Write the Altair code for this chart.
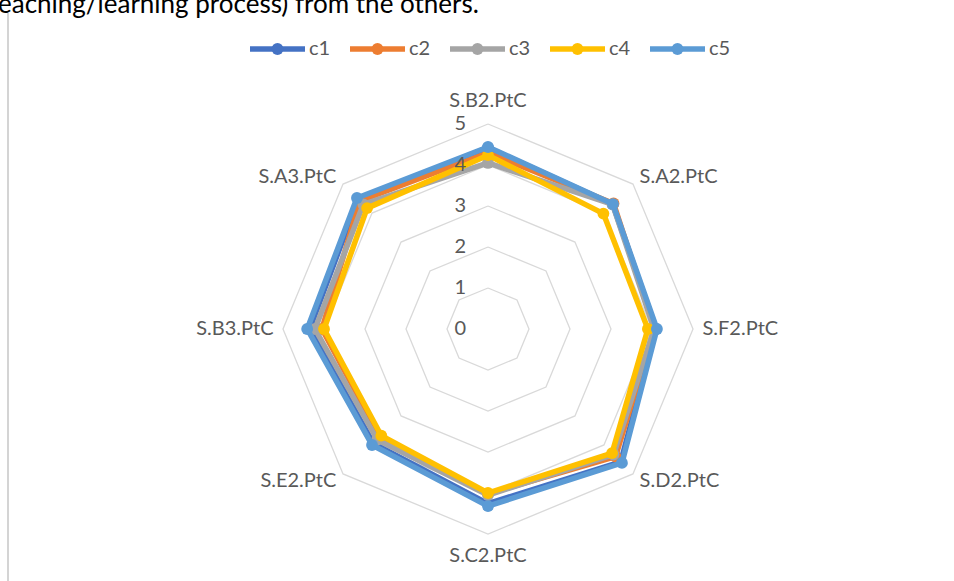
import altair as alt
import pandas as pd

categories = ["S.B2.PtC", "S.A2.PtC", "S.F2.PtC", "S.D2.PtC",
              "S.C2.PtC", "S.E2.PtC", "S.B3.PtC", "S.A3.PtC"]
series_names = ["c1", "c2", "c3", "c4", "c5"]
c1 = [4.42, 4.30, 4.10, 4.58, 4.26, 3.95, 4.35, 4.48]
c2 = [4.30, 4.33, 4.06, 4.40, 4.02, 3.72, 4.05, 4.42]
c3 = [4.05, 4.30, 4.05, 4.33, 4.05, 3.82, 4.22, 4.30]
c4 = [4.24, 3.98, 3.90, 4.28, 4.00, 3.68, 4.00, 4.17]
c5 = [4.44, 4.31, 4.12, 4.62, 4.32, 4.00, 4.41, 4.52]
series_values = [c1, c2, c3, c4, c5]
colors = ["#4472C4", "#ED7D31", "#A5A5A5", "#FFC000", "#5B9BD5"]
ring_levels = [1, 2, 3, 4, 5]
tick_labels = ["0", "1", "2", "3", "4", "5"]
note_text = "eaching/learning process) from the others."

FONT = "Lato"
TXT = "#595959"
W, H = 954, 581
CX, CY, UNIT = 488, 329, 41.0
# legend layout (pixels)
LEG_X0, LEG_STEP, LEG_Y, LEG_SYM = 250, 100, 49, 55

rows = []
for name, vals in zip(series_names, series_values):
    for i in range(len(categories) + 1):
        j = i % len(categories)
        rows.append({"series": name, "idx": i, "category": categories[j], "value": vals[j]})
df = pd.DataFrame(rows)

ring_rows = []
for lv in ring_levels:
    for i in range(len(categories) + 1):
        ring_rows.append({"level": lv, "idx": i})
rings_df = pd.DataFrame(ring_rows)

cat_df = pd.DataFrame({"category": categories, "idx": list(range(len(categories)))})
tick_df = pd.DataFrame({"label": tick_labels, "value": [int(t) for t in tick_labels]})
leg_df = pd.DataFrame({"series": series_names, "k": list(range(len(series_names)))})

xs = alt.Scale(domain=[-CX / UNIT, (W - CX) / UNIT], nice=False, zero=False)
ys = alt.Scale(domain=[-(H - CY) / UNIT, CY / UNIT], nice=False, zero=False)
color_scale = alt.Scale(domain=series_names, range=colors)

def polar(ch, rexpr):
    return ch.transform_calculate(
        px=f"({rexpr}) * sin(datum.idx * PI / 4)",
        py=f"({rexpr}) * cos(datum.idx * PI / 4)",
    )

X = alt.X("px:Q", scale=xs, axis=None)
Y = alt.Y("py:Q", scale=ys, axis=None)
STROKE = alt.Stroke("series:N", scale=color_scale, legend=None)
FILL = alt.Color("series:N", scale=color_scale, legend=None)

rings = polar(alt.Chart(rings_df), "datum.level").mark_line(
    color="#D9D9D9", strokeWidth=1.3
).encode(x=X, y=Y, detail="level:N", order="idx:Q")

series_layers = []
for name in series_names:
    base = polar(alt.Chart(df), "datum.value").transform_filter(
        alt.datum.series == name)
    line = base.mark_line(strokeWidth=5.5, strokeJoin="round").encode(
        x=X, y=Y, order="idx:Q", stroke=STROKE)
    pts = base.transform_filter(alt.datum.idx < 8).mark_point(
        filled=True, size=140, opacity=1, shape="circle").encode(
        x=X, y=Y, color=FILL)
    series_layers += [line, pts]

def labels(idx_list, r, align, baseline):
    return polar(alt.Chart(cat_df), str(r)).transform_filter(
        alt.FieldOneOfPredicate(field="idx", oneOf=idx_list)
    ).mark_text(align=align, baseline=baseline, font=FONT, fontSize=20,
                color=TXT).encode(x=X, y=Y, text="category:N")

lab_top = labels([0], 5.42, "center", "alphabetic")
lab_bot = labels([4], 5.3, "center", "top")
lab_right = labels([1, 2, 3], 5.23, "left", "middle")
lab_left = labels([5, 6, 7], 5.23, "right", "middle")

ticks = alt.Chart(tick_df).transform_calculate(zero="0").mark_text(
    align="right", baseline="middle", dx=-22, font=FONT, fontSize=20, color=TXT
).encode(x=alt.X("zero:Q", scale=xs, axis=None),
         y=alt.Y("value:Q", scale=ys, axis=None),
         text="label:N")

# manual legend: line + marker + label per series
leg_base = alt.Chart(leg_df).transform_calculate(
    lx0=f"({LEG_X0} + datum.k * {LEG_STEP} - {CX}) / {UNIT}",
    lx1=f"({LEG_X0} + datum.k * {LEG_STEP} + {LEG_SYM} - {CX}) / {UNIT}",
    lxm=f"({LEG_X0} + datum.k * {LEG_STEP} + {LEG_SYM / 2} - {CX}) / {UNIT}",
    lxt=f"({LEG_X0} + datum.k * {LEG_STEP} + {LEG_SYM + 4} - {CX}) / {UNIT}",
    ly=f"({CY} - {LEG_Y}) / {UNIT}",
)
LY = alt.Y("ly:Q", scale=ys, axis=None)
leg_line = leg_base.mark_rule(strokeWidth=5.5).encode(
    x=alt.X("lx0:Q", scale=xs, axis=None), x2="lx1:Q", y=LY, stroke=STROKE)
leg_pt = leg_base.mark_point(filled=True, size=140, opacity=1, shape="circle").encode(
    x=alt.X("lxm:Q", scale=xs, axis=None), y=LY, color=FILL)
leg_txt = leg_base.mark_text(align="left", baseline="middle", font=FONT,
                             fontSize=20, color=TXT).encode(
    x=alt.X("lxt:Q", scale=xs, axis=None), y=LY, text="series:N")

note = alt.Chart(pd.DataFrame({"t": [note_text]})).mark_text(
    align="left", baseline="alphabetic", font=FONT, fontSize=26, color="#000000"
).encode(x=alt.value(-2), y=alt.value(13), text="t:N")

vline = alt.Chart(pd.DataFrame({"a": [0]})).mark_rule(
    color="#D4D4D4", strokeWidth=2
).encode(x=alt.value(8), y=alt.value(13), y2=alt.value(H))

chart = alt.layer(
    vline, note, rings, *series_layers, ticks, lab_top, lab_bot, lab_right,
    lab_left, leg_line, leg_pt, leg_txt
).properties(
    width=W, height=H, autosize=alt.AutoSizeParams(type="none"), padding=0,
    background="#FFFFFF"
).configure_view(stroke=None)

chart.save("out.html", embed_options={"renderer": "svg", "actions": False})
